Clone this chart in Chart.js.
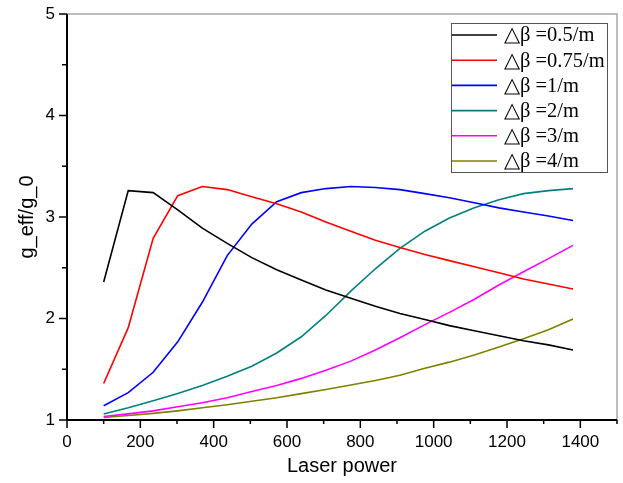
<!DOCTYPE html>
<html>
<head>
<meta charset="utf-8">
<script src="https://cdn.jsdelivr.net/npm/chart.js@4.4.1/dist/chart.umd.min.js"></script>
<style>
  html, body { margin: 0; padding: 0; background: #fff; }
  #wrap { width: 623px; height: 483px; }
</style>
</head>
<body>
<div id="wrap"><canvas id="chart" width="623" height="483"></canvas></div>
<script>
// Laser power sample points
const power = [100, 167, 235, 302, 369, 437, 504, 572, 639, 706, 774, 841, 908, 976, 1043, 1111, 1178, 1245, 1313, 1380];

// g_eff/g_0 for each delta-beta
const db05  = [2.36, 3.26, 3.24, 3.07, 2.89, 2.74, 2.60, 2.48, 2.38, 2.28, 2.20, 2.12, 2.05, 1.99, 1.93, 1.88, 1.83, 1.78, 1.74, 1.69];
const db075 = [1.36, 1.91, 2.79, 3.21, 3.30, 3.27, 3.20, 3.13, 3.05, 2.95, 2.86, 2.77, 2.70, 2.63, 2.57, 2.51, 2.45, 2.39, 2.34, 2.29];
const db1   = [1.14, 1.27, 1.47, 1.77, 2.16, 2.62, 2.93, 3.15, 3.24, 3.28, 3.30, 3.29, 3.27, 3.23, 3.19, 3.14, 3.09, 3.05, 3.01, 2.965];
const db2   = [1.06, 1.12, 1.19, 1.26, 1.34, 1.43, 1.53, 1.66, 1.82, 2.03, 2.27, 2.49, 2.69, 2.86, 2.99, 3.09, 3.17, 3.23, 3.26, 3.28];
const db3   = [1.035, 1.06, 1.09, 1.13, 1.17, 1.22, 1.28, 1.34, 1.41, 1.49, 1.58, 1.69, 1.81, 1.94, 2.06, 2.19, 2.33, 2.46, 2.59, 2.72];
const db4   = [1.025, 1.045, 1.065, 1.09, 1.12, 1.15, 1.185, 1.22, 1.26, 1.30, 1.345, 1.39, 1.44, 1.51, 1.57, 1.64, 1.72, 1.80, 1.89, 1.995];

const seriesLabels = ['\u25B3\u03B2 =0.5/m', '\u25B3\u03B2 =0.75/m', '\u25B3\u03B2 =1/m', '\u25B3\u03B2 =2/m', '\u25B3\u03B2 =3/m', '\u25B3\u03B2 =4/m'];
const seriesData = [db05, db075, db1, db2, db3, db4];
const seriesColors = ['#000000', '#ff0000', '#0000ff', '#008080', '#ff00ff', '#808000'];

const xTicks = [0, 200, 400, 600, 800, 1000, 1200, 1400];
const yTicks = [1, 2, 3, 4, 5];

function toPoints(values) {
    return values.map((v, i) => ({ x: power[i], y: v }));
}

// frame, tick marks and the boxed legend
const framePlugin = {
    id: 'frame',
    afterDraw(chart) {
        const ctx = chart.ctx;
        const a = chart.chartArea;
        const xs = chart.scales.x;
        const ys = chart.scales.y;
        ctx.save();

        // top and right border
        ctx.strokeStyle = '#a8a8a8';
        ctx.lineWidth = 1.5;
        ctx.beginPath();
        ctx.moveTo(a.left, a.top);
        ctx.lineTo(a.right, a.top);
        ctx.lineTo(a.right, a.bottom);
        ctx.stroke();

        // axes
        ctx.strokeStyle = '#000';
        ctx.lineWidth = 2;
        ctx.beginPath();
        ctx.moveTo(a.left, a.top);
        ctx.lineTo(a.left, a.bottom);
        ctx.lineTo(a.right, a.bottom);
        ctx.stroke();

        // x ticks
        ctx.lineWidth = 1.5;
        ctx.beginPath();
        for (let v = 0; v <= 1500; v += 100) {
            const px = xs.getPixelForValue(v);
            const len = v % 200 === 0 ? 8 : 4;
            ctx.moveTo(px, a.bottom);
            ctx.lineTo(px, a.bottom + len);
        }
        // y ticks
        for (let v = 1; v <= 5; v += 0.5) {
            const py = ys.getPixelForValue(v);
            const len = Number.isInteger(v) ? 8 : 5;
            ctx.moveTo(a.left, py);
            ctx.lineTo(a.left - len, py);
        }
        ctx.stroke();

        // legend box
        const box = { left: 451, top: 23, right: 607, bottom: 172 };
        ctx.strokeStyle = '#555';
        ctx.lineWidth = 1;
        ctx.strokeRect(box.left + 0.5, box.top + 0.5, box.right - box.left, box.bottom - box.top);
        ctx.font = '20.5px "Liberation Serif", "Times New Roman", serif';
        ctx.textBaseline = 'middle';
        ctx.textAlign = 'left';
        chart.data.datasets.forEach((ds, i) => {
            const y = 35 + i * 25.2;
            ctx.strokeStyle = ds.borderColor;
            ctx.lineWidth = 1.6;
            ctx.beginPath();
            ctx.moveTo(452, y);
            ctx.lineTo(497, y);
            ctx.stroke();
            ctx.fillStyle = '#000';
            ctx.fillText(ds.label, 504, y + 1);
        });
        ctx.restore();
    }
};

new Chart(document.getElementById('chart'), {
    type: 'line',
    data: {
        datasets: seriesLabels.map((label, i) => ({
            label: label,
            data: toPoints(seriesData[i]),
            borderColor: seriesColors[i],
            backgroundColor: seriesColors[i],
            borderWidth: 1.6,
            pointRadius: 0,
            tension: 0,
            fill: false
        }))
    },
    options: {
        responsive: false,
        animation: false,
        layout: { padding: { left: 0, top: 14, right: 6, bottom: 0 } },
        plugins: {
            legend: { display: false },
            tooltip: { enabled: false }
        },
        scales: {
            x: {
                type: 'linear',
                min: 0,
                max: 1500,
                afterBuildTicks: scale => { scale.ticks = xTicks.map(v => ({ value: v })); },
                afterFit: scale => {
                    scale.height = 63;
                    scale.paddingLeft = 0;
                    scale.paddingRight = 0;
                },
                grid: { display: false, drawTicks: false },
                border: { display: false },
                ticks: {
                    padding: 12,
                    color: '#000',
                    maxRotation: 0,
                    callback: v => String(v),
                    font: { family: '"Liberation Sans", Arial, sans-serif', size: 17 }
                },
                title: {
                    display: true,
                    text: 'Laser power',
                    color: '#000',
                    padding: { top: 0, bottom: 5 },
                    font: { family: '"Liberation Sans", Arial, sans-serif', size: 20 }
                }
            },
            y: {
                type: 'linear',
                min: 1,
                max: 5,
                afterBuildTicks: scale => { scale.ticks = yTicks.map(v => ({ value: v })); },
                afterFit: scale => {
                    scale.width = 67;
                    scale.paddingTop = 0;
                    scale.paddingBottom = 0;
                },
                grid: { display: false, drawTicks: false },
                border: { display: false },
                ticks: {
                    padding: 12,
                    color: '#000',
                    callback: v => String(v),
                    font: { family: '"Liberation Sans", Arial, sans-serif', size: 17 }
                },
                title: {
                    display: true,
                    text: 'g_eff/g_0',
                    color: '#000',
                    padding: { top: 15, bottom: 0 },
                    font: { family: '"Liberation Sans", Arial, sans-serif', size: 20 }
                }
            }
        }
    },
    plugins: [framePlugin]
});
</script>
</body>
</html>
